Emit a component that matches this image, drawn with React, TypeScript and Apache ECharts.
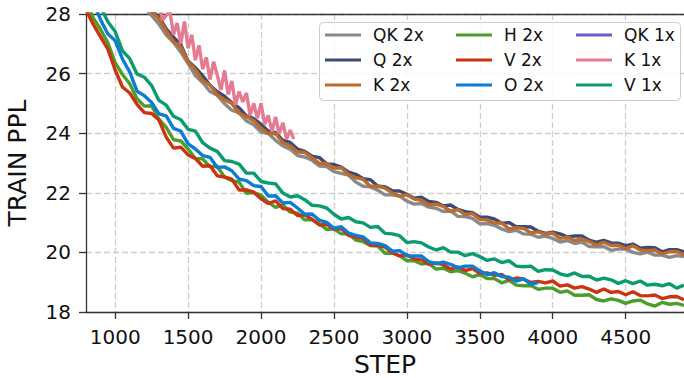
import React, { useEffect, useRef } from "react";
import * as echarts from "echarts";

const steps = [
  800, 850, 900, 950, 1000, 1050, 1100, 1150, 1200, 1250,
  1300, 1350, 1400, 1450, 1500, 1550, 1600, 1650, 1700, 1750,
  1800, 1850, 1900, 1950, 2000, 2050, 2100, 2150, 2200, 2250,
  2300, 2350, 2400, 2450, 2500, 2550, 2600, 2650, 2700, 2750,
  2800, 2850, 2900, 2950, 3000, 3050, 3100, 3150, 3200, 3250,
  3300, 3350, 3400, 3450, 3500, 3550, 3600, 3650, 3700, 3750,
  3800, 3850, 3900, 3950, 4000, 4050, 4100, 4150, 4200, 4250,
  4300, 4350, 4400, 4450, 4500, 4550, 4600, 4650, 4700, 4750,
  4800, 4850, 4900,
];

const pinkSteps = [
  1250, 1275, 1300, 1325, 1350, 1375, 1400, 1425, 1450, 1475,
  1500, 1525, 1550, 1575, 1600, 1625, 1650, 1675, 1700, 1725,
  1750, 1775, 1800, 1825, 1850, 1875, 1900, 1925, 1950, 1975,
  2000, 2025, 2050, 2075, 2100, 2125, 2150, 2175, 2200, 2225,
];

const xTicks = [1000, 1500, 2000, 2500, 3000, 3500, 4000, 4500];
const yTicks = [18, 20, 22, 24, 26, 28];

const qk2x = [
  null, null, null, null, null, null, null, null, 28.22, 27.95,
  27.66, 27.29, 27.05, 26.72, 26.34, 25.93, 25.7, 25.4, 25.27, 24.99,
  24.77, 24.68, 24.41, 24.28, 24.04, 23.99, 23.76, 23.57, 23.46, 23.25,
  23.2, 23.09, 22.9, 22.88, 22.71, 22.65, 22.59, 22.36, 22.22, 22.2,
  22.09, 21.93, 21.93, 21.89, 21.72, 21.62, 21.64, 21.52, 21.48, 21.37,
  21.39, 21.21, 21.2, 21.14, 20.96, 20.97, 20.91, 20.79, 20.7, 20.74,
  20.62, 20.61, 20.51, 20.55, 20.47, 20.35, 20.4, 20.3, 20.35, 20.2,
  20.19, 20.2, 20.07, 20.11, 20.11, 20.0, 19.95, 20.01, 19.91, 19.91,
  19.83, 19.89, 19.86,
];

const q2x = [
  null, null, null, null, null, null, null, null, 28.51, 28.11,
  27.9, 27.5, 27.22, 26.97, 26.42, 26.2, 25.93, 25.61, 25.39, 25.24,
  25.02, 24.85, 24.58, 24.49, 24.3, 24.07, 24.02, 23.76, 23.69, 23.47,
  23.39, 23.23, 23.18, 22.97, 22.95, 22.86, 22.69, 22.62, 22.47, 22.44,
  22.23, 22.2, 22.07, 22.06, 21.95, 21.82, 21.85, 21.71, 21.68, 21.56,
  21.59, 21.44, 21.37, 21.33, 21.18, 21.18, 21.12, 20.98, 21.0, 20.86,
  20.86, 20.85, 20.71, 20.64, 20.68, 20.62, 20.52, 20.55, 20.55, 20.41,
  20.34, 20.4, 20.32, 20.31, 20.23, 20.28, 20.14, 20.17, 20.16, 20.02,
  20.09, 20.09, 20.02,
];

const k2x = [
  null, null, null, null, null, null, null, null, 28.34, 28.09,
  27.84, 27.43, 27.07, 26.9, 26.39, 26.13, 25.76, 25.62, 25.29, 25.12,
  25.0, 24.66, 24.56, 24.42, 24.17, 23.99, 23.98, 23.68, 23.58, 23.37,
  23.36, 23.18, 22.98, 22.99, 22.83, 22.84, 22.61, 22.51, 22.45, 22.22,
  22.22, 22.16, 21.99, 21.89, 21.93, 21.79, 21.75, 21.59, 21.62, 21.54,
  21.38, 21.43, 21.27, 21.3, 21.11, 21.09, 20.98, 20.99, 20.79, 20.83,
  20.8, 20.66, 20.69, 20.61, 20.65, 20.47, 20.52, 20.4, 20.45, 20.36,
  20.25, 20.34, 20.23, 20.24, 20.13, 20.22, 20.08, 20.06, 20.08, 19.95,
  20.02, 20.03, 19.92,
];

const h2x = [
  28.41, 27.86, 27.48, 27.03, 26.37, 25.97, 25.66, 25.16, 24.91, 24.92,
  24.47, 24.2, 23.78, 23.74, 23.47, 23.15, 23.14, 22.87, 22.89, 22.52,
  22.41, 22.36, 21.98, 22.01, 21.92, 21.68, 21.51, 21.59, 21.35, 21.32,
  21.09, 21.1, 20.96, 20.77, 20.79, 20.62, 20.63, 20.41, 20.36, 20.23,
  20.21, 19.97, 19.98, 19.89, 19.72, 19.72, 19.61, 19.63, 19.44, 19.47,
  19.35, 19.39, 19.3, 19.18, 19.26, 19.12, 19.12, 18.98, 19.06, 18.9,
  18.88, 18.89, 18.76, 18.8, 18.8, 18.66, 18.71, 18.56, 18.56, 18.58,
  18.42, 18.37, 18.44, 18.39, 18.29, 18.37, 18.4, 18.27, 18.2, 18.32,
  18.26, 18.29, 18.22,
];

const v2x = [
  28.14, 27.65, 27.23, 26.82, 26.12, 25.55, 25.35, 24.97, 24.69, 24.66,
  24.44, 23.87, 23.5, 23.53, 23.27, 23.15, 22.89, 22.91, 22.57, 22.53,
  22.46, 22.09, 22.1, 22.02, 21.8, 21.64, 21.73, 21.47, 21.45, 21.24,
  21.26, 21.11, 20.92, 20.94, 20.78, 20.8, 20.57, 20.51, 20.47, 20.24,
  20.24, 20.18, 19.99, 19.88, 19.92, 19.78, 19.75, 19.6, 19.65, 19.58,
  19.44, 19.51, 19.39, 19.46, 19.3, 19.31, 19.23, 19.26, 19.08, 19.14,
  19.11, 18.99, 19.03, 18.98, 19.04, 18.87, 18.91, 18.8, 18.85, 18.77,
  18.66, 18.77, 18.66, 18.69, 18.58, 18.68, 18.55, 18.54, 18.57, 18.45,
  18.51, 18.52, 18.41,
];

const o2x = [
  28.78, 28.39, 27.81, 27.33, 27.11, 26.49, 26.05, 25.41, 25.26, 25.03,
  24.65, 24.58, 24.16, 24.07, 23.64, 23.47, 23.25, 23.19, 22.85, 22.87,
  22.74, 22.46, 22.41, 22.24, 22.21, 21.89, 21.9, 21.66, 21.68, 21.49,
  21.28, 21.29, 21.08, 21.01, 20.81, 20.86, 20.65, 20.57, 20.52, 20.32,
  20.3, 20.23, 20.04, 20.06, 19.89, 19.88, 19.88, 19.69, 19.62, 19.67,
  19.6, 19.48, 19.54, 19.54, 19.38, 19.25, 19.32, 19.19, 19.17, 19.04,
  19.11, 18.94, 18.99, null, null, null, null, null, null, null,
  null, null, null, null, null, null, null, null, null, null,
  null, null, null,
];

const qk1x: (number | null)[] = [];

const k1x = [
  28.6, 28.1, 28.35, 27.8, 27.95, 28.1, 27.3, 27.7, 27.0, 27.75,
  26.85, 27.3, 26.45, 26.95, 26.15, 26.55, 25.8, 26.4, 25.95, 25.45,
  26.1, 25.3, 25.75, 24.95, 25.4, 25.05, 25.35, 24.6, 25.0, 24.5,
  25.0, 24.3, 24.6, 24.05, 24.55, 23.98, 24.35, 23.8, 24.1, 23.8,
];

const v1x = [
  29.06, 28.53, 28.23, 27.74, 27.41, 26.76, 26.5, 25.99, 25.88, 25.6,
  25.1, 24.94, 24.57, 24.45, 24.13, 24.07, 23.68, 23.5, 23.39, 23.08,
  23.05, 22.96, 22.66, 22.66, 22.38, 22.33, 22.3, 21.99, 21.86, 21.9,
  21.77, 21.58, 21.56, 21.49, 21.28, 21.12, 21.17, 21.03, 20.99, 20.84,
  20.87, 20.64, 20.62, 20.56, 20.33, 20.36, 20.32, 20.18, 20.08, 20.16,
  20.01, 20.01, 19.89, 19.96, 19.86, 19.73, 19.78, 19.66, 19.72, 19.54,
  19.52, 19.54, 19.36, 19.42, 19.41, 19.28, 19.22, 19.31, 19.19, 19.2,
  19.07, 19.14, 19.08, 18.96, 19.05, 18.95, 19.04, 18.9, 18.93, 18.88,
  18.95, 18.8, 18.9,
];

const seriesDefs = [
  { name: "QK 2x", color: "#8a8a8a", xs: steps, ys: qk2x },
  { name: "Q 2x", color: "#3d4a78", xs: steps, ys: q2x },
  { name: "K 2x", color: "#bd6a2b", xs: steps, ys: k2x },
  { name: "H 2x", color: "#4b9e2c", xs: steps, ys: h2x },
  { name: "V 2x", color: "#cc3311", xs: steps, ys: v2x },
  { name: "O 2x", color: "#0b7dd6", xs: steps, ys: o2x },
  { name: "QK 1x", color: "#6a5acd", xs: steps, ys: qk1x },
  { name: "K 1x", color: "#e57b92", xs: pinkSteps, ys: k1x },
  { name: "V 1x", color: "#0a9b72", xs: steps, ys: v1x },
];

const FONT = "DejaVu Sans";

export default function App() {
  const ref = useRef<HTMLDivElement>(null);
  useEffect(() => {
    document.body.style.margin = "0";
    if (!ref.current) return;
    const chart = echarts.init(ref.current, null, { renderer: "svg" });
    const legendCommon = {
      orient: "vertical",
      top: 25,
      padding: 0,
      itemWidth: 36,
      itemHeight: 3,
      itemGap: 5,
      icon: "rect",
      textStyle: {
        fontSize: 17,
        lineHeight: 20,
        color: "#111",
        fontFamily: FONT,
        padding: [0, 0, 0, 7],
      },
    };
    const axisLineStyle = { color: "#333", width: 1.3 };
    const splitStyle = { type: [6, 3], color: "#cfcfcf", width: 1.3 };
    chart.setOption({
      animation: false,
      backgroundColor: "#fff",
      grid: { left: 86, right: 0, top: 14, bottom: 66, outerBoundsMode: "none", containLabel: false },
      legend: [
        { ...legendCommon, left: 325, data: ["QK 2x", "Q 2x", "K 2x"] },
        { ...legendCommon, left: 456, data: ["H 2x", "V 2x", "O 2x"] },
        { ...legendCommon, left: 576, data: ["QK 1x", "K 1x", "V 1x"] },
      ],
      graphic: [
        {
          type: "rect",
          z: 3,
          shape: { x: 319.5, y: 22.5, width: 361, height: 78, r: 4 },
          style: { fill: "rgba(255,255,255,0.85)", stroke: "#cccccc", lineWidth: 1 },
        },
      ],
      xAxis: [
        {
          type: "value",
          min: 800,
          max: 4900,
          name: "STEP",
          nameLocation: "middle",
          nameGap: 39,
          nameTextStyle: { fontSize: 25, color: "#111", fontFamily: FONT },
          axisLine: { show: true, onZero: false, lineStyle: axisLineStyle },
          axisTick: { show: true, length: 7, customValues: xTicks, lineStyle: axisLineStyle },
          axisLabel: {
            customValues: xTicks,
            fontSize: 20,
            color: "#111",
            margin: 15,
            fontFamily: FONT,
            formatter: (v: number) => String(v),
          },
          splitLine: { show: true, lineStyle: splitStyle },
        },
        {
          type: "value",
          position: "top",
          min: 800,
          max: 4900,
          axisLine: { show: true, onZero: false, lineStyle: axisLineStyle },
          axisTick: { show: false },
          axisLabel: { show: false },
          splitLine: { show: false },
        },
      ],
      yAxis: {
        type: "value",
        min: yTicks[0],
        max: yTicks[yTicks.length - 1],
        interval: 2,
        name: "TRAIN PPL",
        nameLocation: "middle",
        nameGap: 56,
        nameTextStyle: { fontSize: 25, color: "#111", fontFamily: FONT },
        axisLine: { show: true, onZero: false, lineStyle: axisLineStyle },
        axisTick: { show: true, length: 7, lineStyle: axisLineStyle },
        axisLabel: { fontSize: 20, color: "#111", margin: 15, fontFamily: FONT },
        splitLine: { show: true, lineStyle: splitStyle },
      },
      series: seriesDefs.map((s) => ({
        name: s.name,
        type: "line",
        xAxisIndex: 0,
        showSymbol: false,
        symbol: "none",
        clip: true,
        color: s.color,
        lineStyle: { color: s.color, width: 3.4 },
        data: s.ys.map((v, i) => [s.xs[i], v]),
      })),
    });
    return () => chart.dispose();
  }, []);
  return <div ref={ref} style={{ width: 684, height: 378 }} />;
}
